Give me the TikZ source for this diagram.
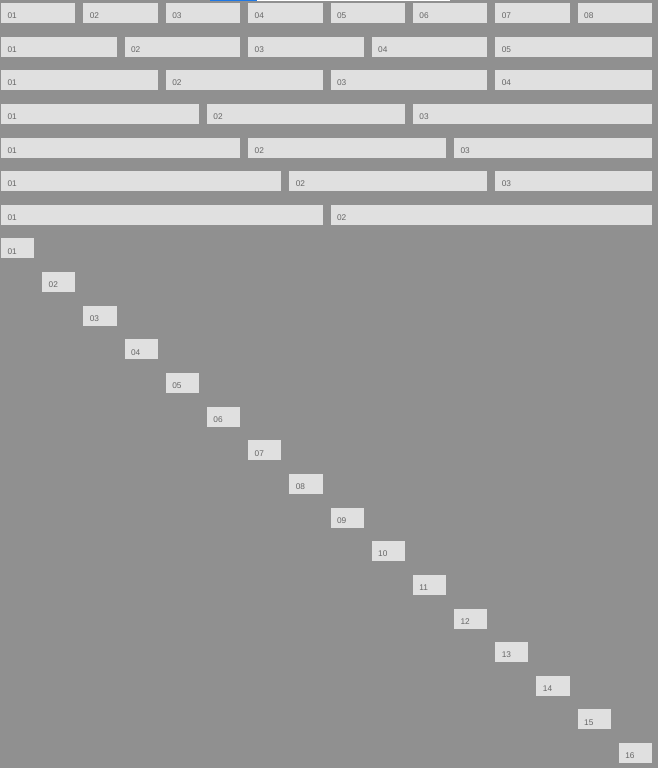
\documentclass[tikz,border=0pt]{standalone}
\usepackage{fontspec}
\setmainfont{Liberation Sans}
\definecolor{bgc}{HTML}{909090}
\definecolor{boxc}{HTML}{E0E0E0}
\definecolor{txtc}{HTML}{666666}
\definecolor{bluec}{HTML}{1E78E6}
\tikzset{
  cell/.style={anchor=north west, fill=boxc, draw=none, minimum height=20pt,
    inner xsep=6.5pt, inner ysep=0pt, outer sep=0pt, text height=11.4pt, text depth=0pt,
    align=left, text=txtc, font=\fontsize{8.3}{10}\selectfont}
}
\newcommand\gcell[5]{%
  \pgfmathsetmacro\gx{1+(#3-1)*41.19}%
  \pgfmathsetmacro\gy{-(3+(#2-1)*33.64)}%
  \pgfmathsetmacro\gw{#4*41.19-8}%
  \pgfmathsetmacro\gt{\gw-13}%
  \node[cell, minimum width=\gw pt, text width=\gt pt] (#1) at (\gx pt,\gy pt) {#5};}
\begin{document}
\begin{tikzpicture}
\fill[bgc] (0,0) rectangle (658pt,-768pt);
\useasboundingbox (0,0) rectangle (658pt,-768pt);
\fill[bluec] (210pt,0) rectangle (257pt,-1.5pt);
\fill[white] (257pt,0) rectangle (450pt,-1.5pt);
% row 1
\foreach \i [evaluate=\i as \c using int(2*\i-1)] in {1,...,8} {\gcell{ra\i}{1}{\c}{2}{0\i}}
% row 2
\gcell{rb1}{2}{1}{3}{01}
\gcell{rb2}{2}{4}{3}{02}
\gcell{rb3}{2}{7}{3}{03}
\gcell{rb4}{2}{10}{3}{04}
\gcell{rb5}{2}{13}{4}{05}
% row 3
\gcell{rc1}{3}{1}{4}{01}
\gcell{rc2}{3}{5}{4}{02}
\gcell{rc3}{3}{9}{4}{03}
\gcell{rc4}{3}{13}{4}{04}
% row 4
\gcell{rd1}{4}{1}{5}{01}
\gcell{rd2}{4}{6}{5}{02}
\gcell{rd3}{4}{11}{6}{03}
% row 5
\gcell{re1}{5}{1}{6}{01}
\gcell{re2}{5}{7}{5}{02}
\gcell{re3}{5}{12}{5}{03}
% row 6
\gcell{rf1}{6}{1}{7}{01}
\gcell{rf2}{6}{8}{5}{02}
\gcell{rf3}{6}{13}{4}{03}
% row 7
\gcell{rg1}{7}{1}{8}{01}
\gcell{rg2}{7}{9}{8}{02}
% diagonal
\foreach \i [evaluate=\i as \r using int(\i+7)] in {1,...,9} {\gcell{dg\i}{\r}{\i}{1}{0\i}}
\foreach \i [evaluate=\i as \r using int(\i+7)] in {10,...,16} {\gcell{dg\i}{\r}{\i}{1}{\i}}
\end{tikzpicture}
\end{document}
